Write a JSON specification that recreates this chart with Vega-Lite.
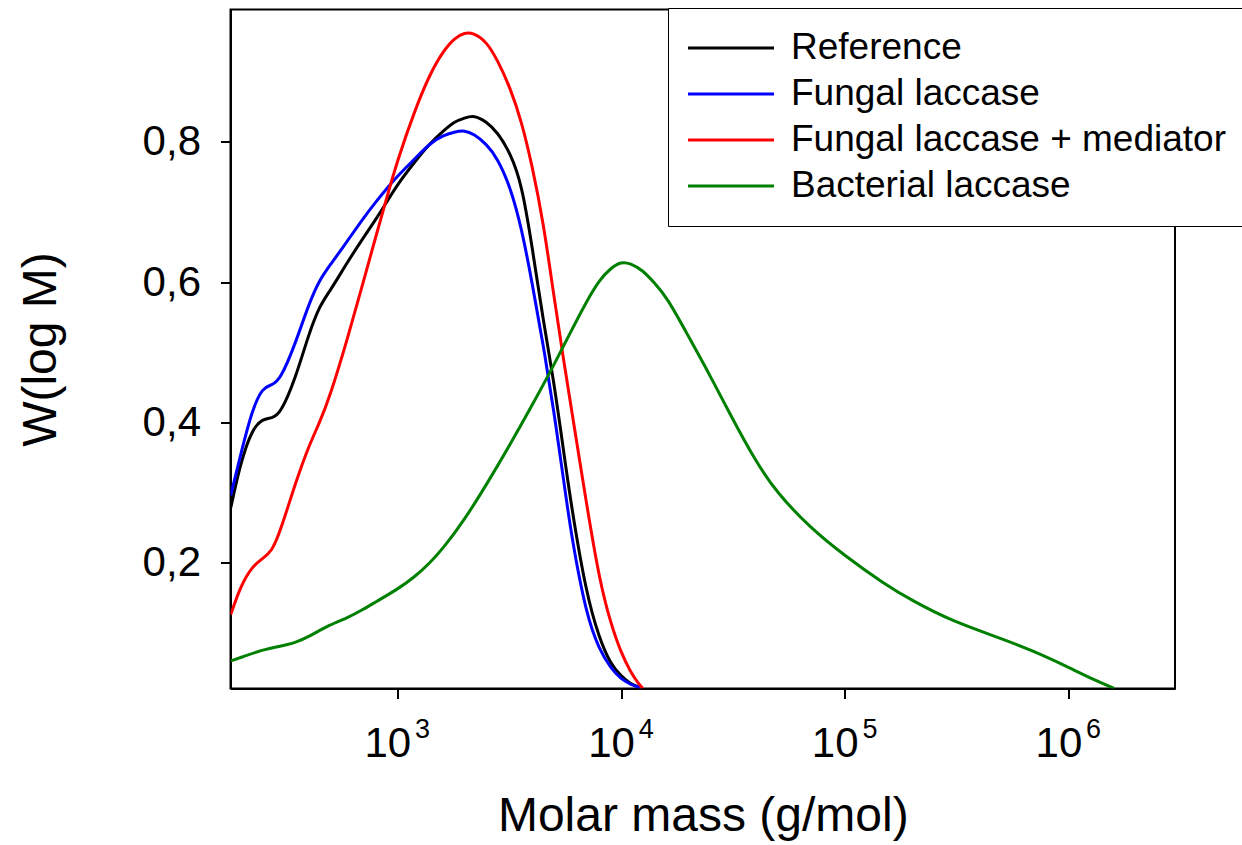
{
  "$schema": "https://vega.github.io/schema/vega-lite/v6.json",
  "width": 944.5,
  "height": 679,
  "autosize": {"type": "none"},
  "padding": {"left": 230.5, "top": 9.5, "right": 67, "bottom": 156.5},
  "background": "white",
  "config": {
    "view": {"stroke": "black", "strokeWidth": 2},
    "font": "Liberation Sans"
  },
  "datasets": {
    "curves": [
      {"s": "Reference", "M": 180, "W": 0.278},
      {"s": "Reference", "M": 200, "W": 0.345},
      {"s": "Reference", "M": 225, "W": 0.391},
      {"s": "Reference", "M": 250, "W": 0.405},
      {"s": "Reference", "M": 275, "W": 0.406},
      {"s": "Reference", "M": 300, "W": 0.412},
      {"s": "Reference", "M": 350, "W": 0.462},
      {"s": "Reference", "M": 400, "W": 0.524},
      {"s": "Reference", "M": 450, "W": 0.567},
      {"s": "Reference", "M": 500, "W": 0.587},
      {"s": "Reference", "M": 600, "W": 0.629},
      {"s": "Reference", "M": 700, "W": 0.662},
      {"s": "Reference", "M": 800, "W": 0.689},
      {"s": "Reference", "M": 900, "W": 0.715},
      {"s": "Reference", "M": 1000, "W": 0.739},
      {"s": "Reference", "M": 1200, "W": 0.772},
      {"s": "Reference", "M": 1400, "W": 0.798},
      {"s": "Reference", "M": 1600, "W": 0.815},
      {"s": "Reference", "M": 1800, "W": 0.829},
      {"s": "Reference", "M": 2000, "W": 0.834},
      {"s": "Reference", "M": 2200, "W": 0.838},
      {"s": "Reference", "M": 2500, "W": 0.829},
      {"s": "Reference", "M": 2800, "W": 0.814},
      {"s": "Reference", "M": 3200, "W": 0.784},
      {"s": "Reference", "M": 3600, "W": 0.74},
      {"s": "Reference", "M": 4000, "W": 0.652},
      {"s": "Reference", "M": 4500, "W": 0.543},
      {"s": "Reference", "M": 5000, "W": 0.46},
      {"s": "Reference", "M": 5500, "W": 0.366},
      {"s": "Reference", "M": 6000, "W": 0.28},
      {"s": "Reference", "M": 7000, "W": 0.155},
      {"s": "Reference", "M": 8000, "W": 0.092},
      {"s": "Reference", "M": 9000, "W": 0.055},
      {"s": "Reference", "M": 10000, "W": 0.0385},
      {"s": "Reference", "M": 11000, "W": 0.027},
      {"s": "Reference", "M": 12500, "W": 0.021},
      {"s": "Fungal laccase", "M": 180, "W": 0.296},
      {"s": "Fungal laccase", "M": 200, "W": 0.356},
      {"s": "Fungal laccase", "M": 225, "W": 0.419},
      {"s": "Fungal laccase", "M": 250, "W": 0.45},
      {"s": "Fungal laccase", "M": 275, "W": 0.453},
      {"s": "Fungal laccase", "M": 300, "W": 0.461},
      {"s": "Fungal laccase", "M": 350, "W": 0.512},
      {"s": "Fungal laccase", "M": 400, "W": 0.567},
      {"s": "Fungal laccase", "M": 450, "W": 0.604},
      {"s": "Fungal laccase", "M": 500, "W": 0.624},
      {"s": "Fungal laccase", "M": 600, "W": 0.659},
      {"s": "Fungal laccase", "M": 700, "W": 0.69},
      {"s": "Fungal laccase", "M": 800, "W": 0.714},
      {"s": "Fungal laccase", "M": 900, "W": 0.734},
      {"s": "Fungal laccase", "M": 1000, "W": 0.751},
      {"s": "Fungal laccase", "M": 1200, "W": 0.776},
      {"s": "Fungal laccase", "M": 1400, "W": 0.798},
      {"s": "Fungal laccase", "M": 1600, "W": 0.809},
      {"s": "Fungal laccase", "M": 1800, "W": 0.814},
      {"s": "Fungal laccase", "M": 2000, "W": 0.8165},
      {"s": "Fungal laccase", "M": 2200, "W": 0.811},
      {"s": "Fungal laccase", "M": 2500, "W": 0.797},
      {"s": "Fungal laccase", "M": 2800, "W": 0.777},
      {"s": "Fungal laccase", "M": 3200, "W": 0.736},
      {"s": "Fungal laccase", "M": 3600, "W": 0.676},
      {"s": "Fungal laccase", "M": 4000, "W": 0.6},
      {"s": "Fungal laccase", "M": 4500, "W": 0.509},
      {"s": "Fungal laccase", "M": 5000, "W": 0.418},
      {"s": "Fungal laccase", "M": 5500, "W": 0.325},
      {"s": "Fungal laccase", "M": 6000, "W": 0.2375},
      {"s": "Fungal laccase", "M": 7000, "W": 0.125},
      {"s": "Fungal laccase", "M": 8000, "W": 0.076},
      {"s": "Fungal laccase", "M": 9000, "W": 0.05},
      {"s": "Fungal laccase", "M": 10000, "W": 0.034},
      {"s": "Fungal laccase", "M": 11000, "W": 0.027},
      {"s": "Fungal laccase", "M": 12000, "W": 0.0225},
      {"s": "Fungal laccase", "M": 12300, "W": 0.022},
      {"s": "Fungal laccase + mediator", "M": 180, "W": 0.126},
      {"s": "Fungal laccase + mediator", "M": 200, "W": 0.168},
      {"s": "Fungal laccase + mediator", "M": 225, "W": 0.195},
      {"s": "Fungal laccase + mediator", "M": 250, "W": 0.206},
      {"s": "Fungal laccase + mediator", "M": 275, "W": 0.216},
      {"s": "Fungal laccase + mediator", "M": 300, "W": 0.245},
      {"s": "Fungal laccase + mediator", "M": 350, "W": 0.313},
      {"s": "Fungal laccase + mediator", "M": 400, "W": 0.365},
      {"s": "Fungal laccase + mediator", "M": 450, "W": 0.4},
      {"s": "Fungal laccase + mediator", "M": 500, "W": 0.437},
      {"s": "Fungal laccase + mediator", "M": 600, "W": 0.52},
      {"s": "Fungal laccase + mediator", "M": 700, "W": 0.597},
      {"s": "Fungal laccase + mediator", "M": 800, "W": 0.664},
      {"s": "Fungal laccase + mediator", "M": 900, "W": 0.722},
      {"s": "Fungal laccase + mediator", "M": 1000, "W": 0.773},
      {"s": "Fungal laccase + mediator", "M": 1200, "W": 0.846},
      {"s": "Fungal laccase + mediator", "M": 1400, "W": 0.897},
      {"s": "Fungal laccase + mediator", "M": 1600, "W": 0.929},
      {"s": "Fungal laccase + mediator", "M": 1800, "W": 0.948},
      {"s": "Fungal laccase + mediator", "M": 2000, "W": 0.956},
      {"s": "Fungal laccase + mediator", "M": 2200, "W": 0.955},
      {"s": "Fungal laccase + mediator", "M": 2500, "W": 0.943},
      {"s": "Fungal laccase + mediator", "M": 2800, "W": 0.917},
      {"s": "Fungal laccase + mediator", "M": 3200, "W": 0.877},
      {"s": "Fungal laccase + mediator", "M": 3600, "W": 0.828},
      {"s": "Fungal laccase + mediator", "M": 4000, "W": 0.767},
      {"s": "Fungal laccase + mediator", "M": 4500, "W": 0.685},
      {"s": "Fungal laccase + mediator", "M": 5000, "W": 0.582},
      {"s": "Fungal laccase + mediator", "M": 5500, "W": 0.495},
      {"s": "Fungal laccase + mediator", "M": 6000, "W": 0.42},
      {"s": "Fungal laccase + mediator", "M": 7000, "W": 0.285},
      {"s": "Fungal laccase + mediator", "M": 8000, "W": 0.176},
      {"s": "Fungal laccase + mediator", "M": 9000, "W": 0.113},
      {"s": "Fungal laccase + mediator", "M": 10000, "W": 0.072},
      {"s": "Fungal laccase + mediator", "M": 11000, "W": 0.045},
      {"s": "Fungal laccase + mediator", "M": 12000, "W": 0.027},
      {"s": "Fungal laccase + mediator", "M": 12500, "W": 0.021},
      {"s": "Bacterial laccase", "M": 180, "W": 0.06},
      {"s": "Bacterial laccase", "M": 200, "W": 0.065},
      {"s": "Bacterial laccase", "M": 250, "W": 0.076},
      {"s": "Bacterial laccase", "M": 300, "W": 0.081},
      {"s": "Bacterial laccase", "M": 350, "W": 0.086},
      {"s": "Bacterial laccase", "M": 400, "W": 0.094},
      {"s": "Bacterial laccase", "M": 500, "W": 0.112},
      {"s": "Bacterial laccase", "M": 600, "W": 0.1215},
      {"s": "Bacterial laccase", "M": 700, "W": 0.133},
      {"s": "Bacterial laccase", "M": 800, "W": 0.144},
      {"s": "Bacterial laccase", "M": 1000, "W": 0.162},
      {"s": "Bacterial laccase", "M": 1200, "W": 0.18},
      {"s": "Bacterial laccase", "M": 1400, "W": 0.2},
      {"s": "Bacterial laccase", "M": 1600, "W": 0.22},
      {"s": "Bacterial laccase", "M": 2000, "W": 0.2615},
      {"s": "Bacterial laccase", "M": 2500, "W": 0.311},
      {"s": "Bacterial laccase", "M": 3200, "W": 0.369},
      {"s": "Bacterial laccase", "M": 4000, "W": 0.424},
      {"s": "Bacterial laccase", "M": 5000, "W": 0.481},
      {"s": "Bacterial laccase", "M": 6000, "W": 0.531},
      {"s": "Bacterial laccase", "M": 7000, "W": 0.572},
      {"s": "Bacterial laccase", "M": 8000, "W": 0.603},
      {"s": "Bacterial laccase", "M": 9000, "W": 0.62},
      {"s": "Bacterial laccase", "M": 10000, "W": 0.629},
      {"s": "Bacterial laccase", "M": 11000, "W": 0.627},
      {"s": "Bacterial laccase", "M": 12500, "W": 0.617},
      {"s": "Bacterial laccase", "M": 14000, "W": 0.6},
      {"s": "Bacterial laccase", "M": 16000, "W": 0.579},
      {"s": "Bacterial laccase", "M": 20000, "W": 0.523},
      {"s": "Bacterial laccase", "M": 25000, "W": 0.467},
      {"s": "Bacterial laccase", "M": 30000, "W": 0.418},
      {"s": "Bacterial laccase", "M": 40000, "W": 0.344},
      {"s": "Bacterial laccase", "M": 50000, "W": 0.299},
      {"s": "Bacterial laccase", "M": 70000, "W": 0.25},
      {"s": "Bacterial laccase", "M": 100000, "W": 0.21},
      {"s": "Bacterial laccase", "M": 150000, "W": 0.17},
      {"s": "Bacterial laccase", "M": 200000, "W": 0.146},
      {"s": "Bacterial laccase", "M": 300000, "W": 0.117},
      {"s": "Bacterial laccase", "M": 500000, "W": 0.092},
      {"s": "Bacterial laccase", "M": 700000, "W": 0.074},
      {"s": "Bacterial laccase", "M": 1000000, "W": 0.051},
      {"s": "Bacterial laccase", "M": 1300000, "W": 0.033},
      {"s": "Bacterial laccase", "M": 1600000, "W": 0.021}
    ]
  },
  "data": {"name": "curves"},
  "encoding": {
    "y": {
      "field": "W",
      "type": "quantitative",
      "scale": {"domain": [0.0207, 0.9886], "nice": false, "zero": false},
      "axis": {
        "values": [0.2, 0.4, 0.6, 0.8],
        "labelExpr": "replace(format(datum.value, '.1f'), '.', ',')",
        "labelFontSize": 42,
        "labelColor": "black",
        "labelPadding": 20,
        "tickSize": 10,
        "tickColor": "black",
        "tickWidth": 2,
        "domainColor": "black",
        "domainWidth": 2,
        "grid": false,
        "title": "W(log M)",
        "titleFontSize": 48,
        "titleFontWeight": "normal",
        "titleColor": "black",
        "titlePadding": 77
      }
    },
    "color": {
      "field": "s",
      "type": "nominal",
      "scale": {
        "domain": ["Reference", "Fungal laccase", "Fungal laccase + mediator", "Bacterial laccase"],
        "range": ["#000000", "#0000ff", "#ff0000", "#008000"]
      },
      "legend": {
        "title": null,
        "orient": "none",
        "legendX": 437.5,
        "legendY": -1.5,
        "symbolType": "stroke",
        "symbolSize": 7400,
        "symbolStrokeWidth": 3,
        "clipHeight": 44,
        "labelFontSize": 37,
        "labelColor": "black",
        "labelOffset": 15,
        "labelLimit": 0,
        "rowPadding": 2,
        "padding": 18,
        "strokeColor": "black",
        "fillColor": "white"
      }
    }
  },
  "layer": [
    {
      "transform": [{"filter": "datum.s !== 'Bacterial laccase'"}],
      "mark": {"type": "line", "strokeWidth": 3, "interpolate": "basis", "clip": true},
      "encoding": {
        "x": {
          "field": "M",
          "type": "quantitative",
          "scale": {"type": "log", "domain": [179.6, 2996000], "nice": false},
          "axis": {
            "orient": "bottom",
            "values": [1000, 10000, 100000, 1000000],
            "labelExpr": "'10'",
            "labelFontSize": 42,
            "labelColor": "black",
            "labelPadding": 25,
            "labelOffset": -10,
            "tickSize": 10,
            "tickColor": "black",
            "tickWidth": 2,
            "domainColor": "black",
            "domainWidth": 2,
            "grid": false,
            "title": "Molar mass (g/mol)",
            "titleFontSize": 48,
            "titleFontWeight": "normal",
            "titleColor": "black",
            "titlePadding": 28
          }
        }
      }
    },
    {
      "transform": [{"filter": "datum.s === 'Bacterial laccase'"}],
      "mark": {"type": "line", "strokeWidth": 3, "interpolate": "basis", "clip": true},
      "encoding": {
        "x": {
          "field": "M",
          "type": "quantitative",
          "axis": {
            "orient": "bottom",
            "values": [1000, 10000, 100000, 1000000],
            "labelExpr": "format(log(datum.value) / LN10, '.0f')",
            "labelFontSize": 27,
            "labelColor": "black",
            "labelPadding": 18,
            "labelOffset": 24.7,
            "tickSize": 10,
            "tickOpacity": 0,
            "domain": false,
            "grid": false,
            "title": null
          }
        }
      }
    }
  ],
  "resolve": {"axis": {"x": "independent"}}
}
